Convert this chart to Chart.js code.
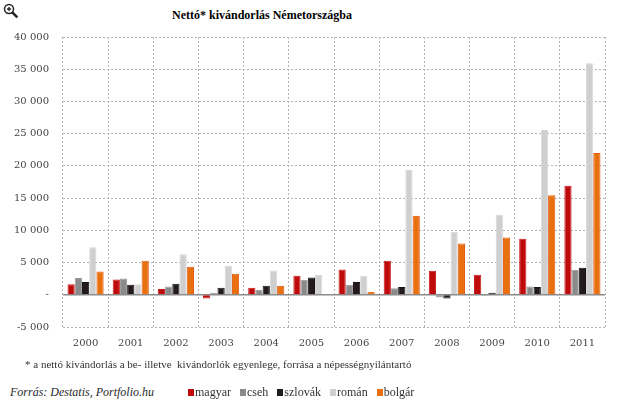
<!DOCTYPE html>
<html><head><meta charset="utf-8">
<script src="https://cdn.jsdelivr.net/npm/chart.js@4/dist/chart.umd.min.js"></script>
<style>
html,body{margin:0;padding:0;background:#fff;width:620px;height:409px;overflow:hidden;font-family:"Liberation Serif",serif;}
#wrap{position:absolute;left:0;top:0;width:620px;height:360px;}
#title{position:absolute;left:172px;top:8px;text-align:left;font-weight:bold;font-size:12px;color:#000;white-space:nowrap;}
#note{position:absolute;left:25px;top:358px;font-size:11px;color:#333;white-space:nowrap;}
#src{position:absolute;left:10px;top:385px;font-size:12px;font-style:italic;color:#2a2a2a;white-space:nowrap;}
#legend{position:absolute;left:188px;top:385px;font-size:12px;color:#333;white-space:nowrap;}
#legend span.item{margin-right:9px;}
#legend span.sw{display:inline-block;width:6px;height:7px;margin-right:1px;vertical-align:0px;}
#icon{position:absolute;left:3px;top:3px;}
</style></head><body>
<svg id="icon" width="16" height="16" viewBox="0 0 16 16"><circle cx="6" cy="6" r="4.5" fill="#fff" stroke="#222" stroke-width="1.5"/><path d="M4 6h4M6 4v4" stroke="#222" stroke-width="1.3"/><path d="M9.3 9.3l5 5" stroke="#222" stroke-width="2.5"/></svg>
<div id="title">Nettó* kivándorlás Németországba</div>
<div id="wrap"><canvas id="c" width="620" height="360"></canvas></div>
<div id="note">* a nettó kivándorlás a be- illetve &nbsp;kivándorlók egyenlege, forrása a népességnyilántartó</div>
<div id="src">Forrás: Destatis, Portfolio.hu</div>
<div id="legend"></div>
<script>
const years = ["2000","2001","2002","2003","2004","2005","2006","2007","2008","2009","2010","2011"];
const seriesNames = ["magyar","cseh","szlovák","román","bolgár"];
const magyar  = [1650, 2380, 880, -570, 1090, 2950, 3930, 5270, 3720, 3100, 8680, 16900];
const cseh    = [2590, 2530, 1290, 310, 780, 2330, 1550, 1030, -410, -150, 1290, 3880];
const szlovak = [1970, 1550, 1700, 1090, 1400, 2690, 1970, 1190, -570, 310, 1190, 4190];
const roman   = [7390, 1650, 6300, 4500, 3770, 3100, 2950, 19380, 9770, 12400, 25580, 35920];
const bolgar  = [3610, 5270, 4340, 3260, 1400, 0, 470, 12250, 7950, 8880, 15450, 22010];
const yTicks = [-5000, 0, 5000, 10000, 15000, 20000, 25000, 30000, 35000, 40000];
const colors = ["#BE0A0A", "#8A8A8A", "#231A20", "#CFCFCF", "#E8700F"];
const borders = ["#C81E1E", "#9A9A9A", "#1A1216", "#D8D8D8", "#E25A10"];
const values = [magyar, cseh, szlovak, roman, bolgar];

function fmt(v){
  if (v === 0) return "-";
  const s = Math.abs(v).toString().replace(/\B(?=(\d{3})+(?!\d))/g, " ");
  return (v < 0 ? "-" : "") + s;
}

const zeroLine = {
  id: "zeroLine",
  beforeDatasetsDraw(chart){
    const {ctx, chartArea, scales} = chart;
    const y = scales.y.getPixelForValue(0);
    ctx.save();
    ctx.strokeStyle = "#8a8a8a";
    ctx.lineWidth = 1.5;
    ctx.beginPath();
    ctx.moveTo(chartArea.left, y);
    ctx.lineTo(chartArea.right, y);
    ctx.stroke();
    ctx.restore();
  }
};

new Chart(document.getElementById("c"), {
  type: "bar",
  data: {
    labels: years,
    datasets: seriesNames.map((n, i) => ({
      label: n,
      data: values[i],
      backgroundColor: colors[i],
      borderColor: borders[i],
      borderWidth: 1,
      categoryPercentage: 0.8,
      barPercentage: 1.0
    }))
  },
  options: {
    responsive: false,
    animation: false,
    layout: { padding: { top: 37, right: 15, left: 0, bottom: 0 } },
    plugins: { legend: { display: false }, title: { display: false }, tooltip: { enabled: false } },
    scales: {
      x: {
        grid: { color: "#b4b4b4", drawTicks: false, offset: true },
        border: { display: false, dash: [2, 2] },
        ticks: { color: "#444", font: { family: "DejaVu Serif", size: 10 }, padding: 10 },
        afterFit(s){ s.height = 33; }
      },
      y: {
        min: -5000, max: 40000,
        afterBuildTicks(s){ s.ticks = yTicks.map(v => ({ value: v })); },
        grid: { color: "#b4b4b4", drawTicks: false },
        border: { display: false, dash: [2, 2] },
        ticks: { color: "#444", font: { family: "DejaVu Serif", size: 10 }, padding: 14, callback: v => fmt(v) },
        afterFit(s){ s.width = 63; }
      }
    }
  },
  plugins: [zeroLine]
});

const leg = document.getElementById("legend");
seriesNames.forEach((n, i) => {
  const it = document.createElement("span");
  it.className = "item";
  const sw = document.createElement("span");
  sw.className = "sw";
  sw.style.background = colors[i];
  it.appendChild(sw);
  it.appendChild(document.createTextNode(n));
  leg.appendChild(it);
});
</script>
</body></html>
